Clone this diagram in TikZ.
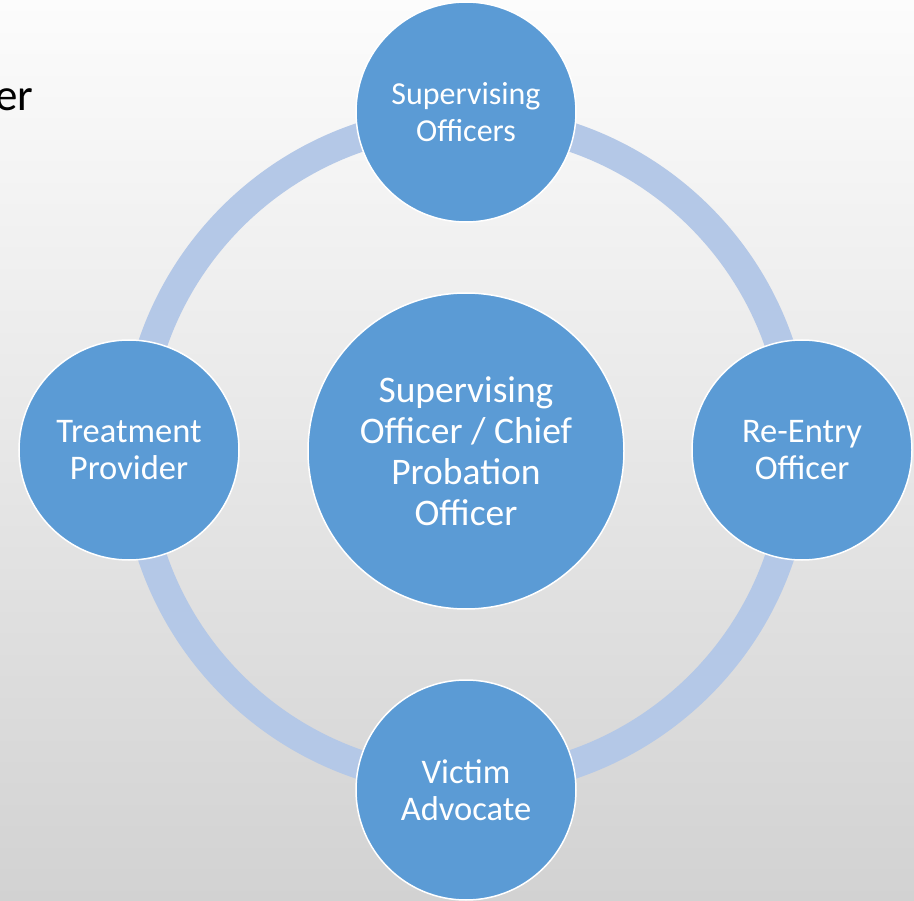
\documentclass[tikz,border=0pt]{standalone}
\usepackage{fontspec}
\setmainfont{Carlito}
\usetikzlibrary{positioning}

\definecolor{nodeblue}{HTML}{5B9BD5}
\definecolor{ringblue}{HTML}{B4C8E7}
\definecolor{bgtop}{HTML}{FCFCFC}
\definecolor{bgbottom}{HTML}{D2D2D2}

\begin{document}
\begin{tikzpicture}[x=1pt,y=-1pt,
    role/.style={circle, fill=nodeblue, draw=white, line width=1.5pt,
      minimum size=220pt, inner sep=0pt, align=center, text=white,
      font=\fontsize{34.5}{37}\selectfont},
    toprole/.style={role, font=\fontsize{32}{37}\selectfont},
    hubnode/.style={role, minimum size=316pt,
      font=\fontsize{37.5}{41}\selectfont},
    ring/.style={draw=ringblue, line width=29pt}]
    \useasboundingbox (0,0) rectangle (914,901);
    \shade[top color=bgtop, bottom color=bgbottom] (0,0) rectangle (914,901);

    \node[anchor=base east, font=\fontsize{45}{54}\selectfont] (title) at (37,111) {er};

    \coordinate (c) at (466,451);
    \path[ring] (c) circle (331);

    \node[hubnode] (chief) at (466,451) {Supervising\\Officer / Chief\\Probation\\Officer};
    \node[toprole] (sup) at (466,112) {Supervising\\Officers};
    \node[role] (treat) at (129,450) {Treatment\\Provider};
    \node[role] (reentry) at (802,450) {Re-Entry\\Officer};
    \node[role] (victim) at (466,790) {Victim\\Advocate};
  \end{tikzpicture}
\end{document}
